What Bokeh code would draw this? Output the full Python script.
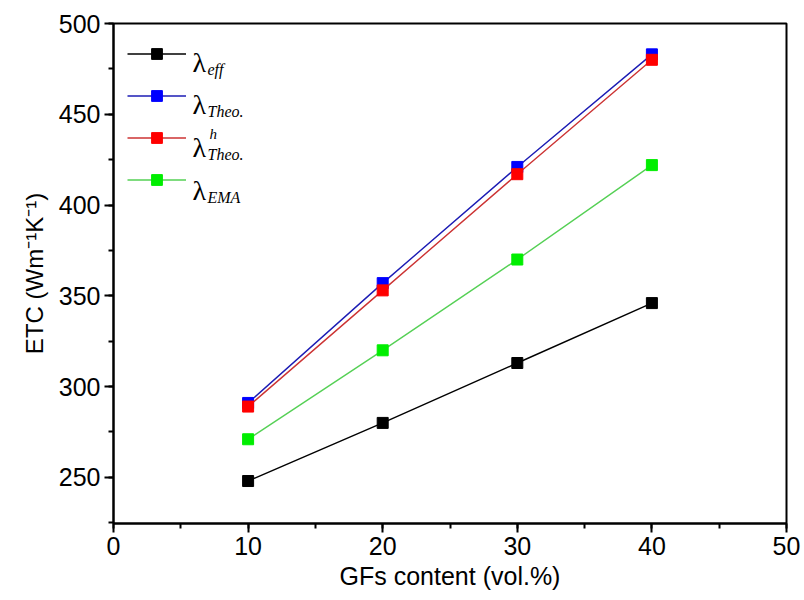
from bokeh.plotting import figure
from bokeh.models import (Range1d, SingleIntervalTicker, Legend, LegendItem, Label,
                          ColumnDataSource)
from bokeh.embed import file_html
from bokeh.resources import INLINE

# ---- data ----
gf_content = [10, 20, 30, 40]
lam_eff = [248, 280, 313, 346]
lam_theo = [291, 357, 421, 483]
lam_theo_h = [289, 353, 417, 480]
lam_ema = [271, 320, 370, 422]

series_names = ["eff", "Theo.", "Theo.h", "EMA"]
marker_colors = ["#000000", "#0000ff", "#ff0000", "#00ee00"]
line_colors = ["#000000", "#1c1cb4", "#cc3333", "#55d055"]

x_label = "GFs content (vol.%)"
y_label = "ETC (Wm\u207b\u00b9K\u207b\u00b9)"

X0, X1 = 0, 50
Y0, Y1 = 224.6, 500

W, H = 804, 600
FL, FR, FT, FB = 113, 786, 23, 523
p = figure(width=W, height=H, output_backend="svg", toolbar_location=None,
           x_range=Range1d(X0, X1), y_range=Range1d(Y0, Y1),
           min_border_left=FL, min_border_right=W - FR,
           min_border_top=FT, min_border_bottom=H - FB)
p.background_fill_color = "white"
p.border_fill_color = "white"
p.xgrid.visible = False
p.ygrid.visible = False
p.outline_line_color = "black"
p.outline_line_width = 2

p.xaxis.ticker = SingleIntervalTicker(interval=10, num_minor_ticks=2)
p.yaxis.ticker = SingleIntervalTicker(interval=50, num_minor_ticks=2)
for ax in (p.xaxis[0], p.yaxis[0]):
    ax.axis_line_width = 2
    ax.axis_line_color = "black"
    ax.major_tick_line_width = 2
    ax.minor_tick_line_width = 2
    ax.major_tick_out = 9
    ax.major_tick_in = 0
    ax.minor_tick_out = 5
    ax.minor_tick_in = 0
    ax.major_label_text_color = "black"
    ax.axis_label_text_color = "black"
    ax.axis_label_text_font_style = "normal"

p.xaxis.major_label_text_font = "Liberation Sans"
p.xaxis.major_label_text_font_size = "25px"
p.xaxis.major_label_standoff = 4
p.xaxis.axis_label = x_label
p.xaxis.axis_label_text_font = "Liberation Sans"
p.xaxis.axis_label_text_font_size = "25px"
p.xaxis.axis_label_standoff = 4

p.yaxis.major_label_text_font = "Liberation Sans"
p.yaxis.major_label_text_font_size = "25px"
p.yaxis.major_label_standoff = 4
p.yaxis.axis_label = y_label
p.yaxis.axis_label_text_font = "Liberation Sans"
p.yaxis.axis_label_text_font_size = "24px"
p.yaxis.axis_label_standoff = 8

all_series = [lam_eff, lam_theo, lam_theo_h, lam_ema]
items = []
for name, ys, mc, lc in zip(series_names, all_series, marker_colors, line_colors):
    src = ColumnDataSource(dict(x=gf_content, y=ys))
    r_line = p.line("x", "y", source=src, line_color=lc, line_width=1.4)
    r_pts = p.scatter("x", "y", source=src, marker="square", size=11,
                      fill_color=mc, line_color=mc)
    items.append(LegendItem(label=" ", renderers=[r_line, r_pts]))

legend = Legend(items=items, location=(14, 330), margin=0, padding=0,
                glyph_width=59, glyph_height=27, spacing=15,
                label_text_font_size="2px", label_standoff=0,
                border_line_color=None, background_fill_alpha=0)
p.add_layout(legend, "center")

# legend text (pixel layout converted into data coordinates of the frame)
def dx(px):
    return X0 + (px - FL) / (FR - FL) * (X1 - X0)
def dy(py):
    return Y1 - (py - FT) / (FB - FT) * (Y1 - Y0)

row_y = [53, 95, 138, 181]
subs = ["eff", "Theo.", "Theo.", "EMA"]
for ry, sub in zip(row_y, subs):
    p.add_layout(Label(x=dx(192), y=dy(ry + 9), text="\u03bb",
                       text_font="Liberation Serif", text_font_size="28px",
                       text_color="black", text_baseline="alphabetic"))
    p.add_layout(Label(x=dx(207), y=dy(ry + 16), text=sub,
                       text_font="Liberation Serif", text_font_style="italic",
                       text_font_size="16px", text_color="black",
                       text_baseline="alphabetic"))
p.add_layout(Label(x=dx(209), y=dy(row_y[2] - 5), text="h",
                   text_font="Liberation Serif", text_font_style="italic",
                   text_font_size="15px", text_color="black",
                   text_baseline="alphabetic"))

open("out.html", "w").write(file_html(p, INLINE))
